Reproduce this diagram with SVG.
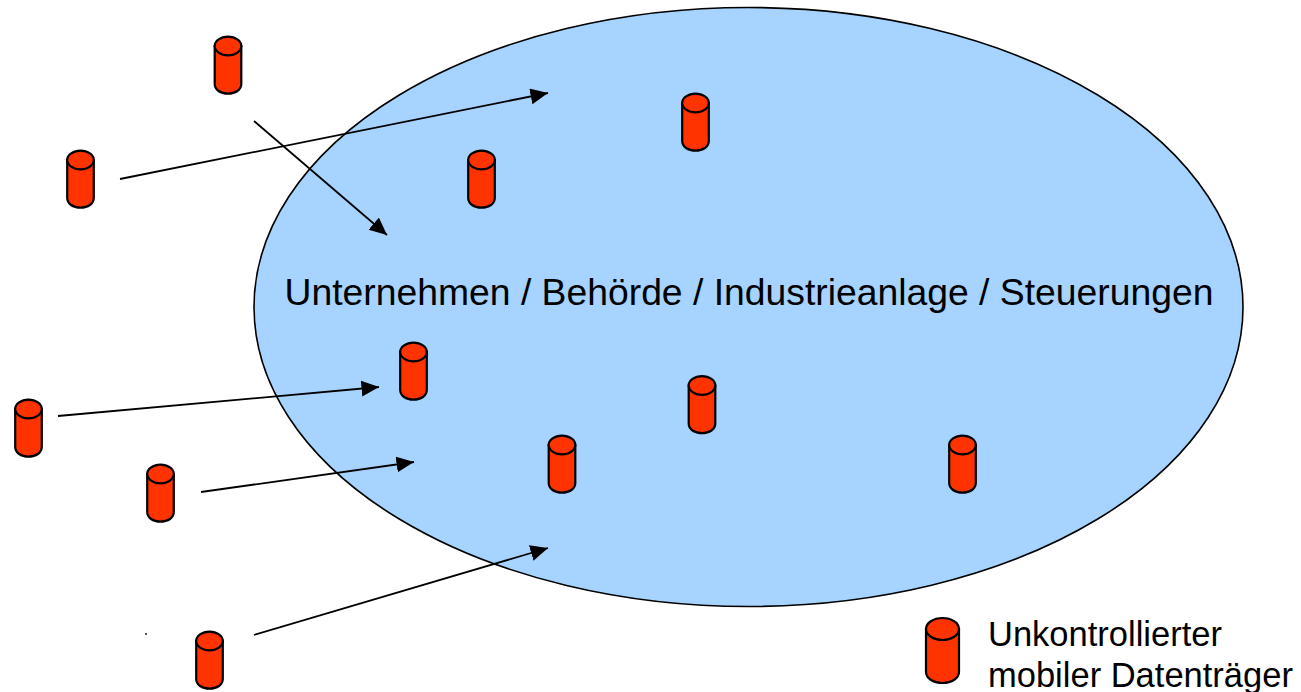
<svg xmlns="http://www.w3.org/2000/svg" width="1301" height="692" viewBox="0 0 1301 692">
<style>
.cyl{fill:#ff3300;stroke:#000;stroke-width:2.200}
.conn{stroke:#000;stroke-width:1.800;fill:none;marker-end:url(#arrow)}
text{font-family:"Liberation Sans",Arial,sans-serif;fill:#000}
</style>
<defs>
<marker id="arrow" markerUnits="userSpaceOnUse" markerWidth="20" markerHeight="18" refX="17.500" refY="8" orient="auto"><path d="M0 0L17.500 8L0 16Z" fill="#000"/></marker>
<g id="cylinder"><path class="cyl" d="M-13.300 -19V19C-13.300 24.800 -7.500 28.600 0 28.600C7.500 28.600 13.300 24.800 13.300 19V-19Z"/><ellipse class="cyl" cx="0" cy="-19" rx="13.300" ry="9.300"/></g>
</defs>
<rect width="1301" height="692" fill="#fff"/>
<g id="enterprise"><ellipse cx="748.500" cy="307" rx="494.500" ry="299.500" fill="#a6d3ff" stroke="#000" stroke-width="1.600"/>
<text x="749" y="304.500" font-size="37.300" text-anchor="middle">Unternehmen / Behörde / Industrieanlage / Steuerungen</text></g>
<g id="connectors">
<line class="conn" x1="120" y1="179" x2="548" y2="93"/>
<line class="conn" x1="254" y1="121" x2="387" y2="235"/>
<line class="conn" x1="58" y1="416" x2="379" y2="387"/>
<line class="conn" x1="201" y1="492" x2="414" y2="462"/>
<line class="conn" x1="254" y1="635" x2="548" y2="548"/>
</g>
<g id="c1"><use href="#cylinder" x="228" y="65"/></g>
<g id="c2"><use href="#cylinder" x="80.500" y="179"/></g>
<g id="c3"><use href="#cylinder" x="481.500" y="179"/></g>
<g id="c4"><use href="#cylinder" x="695.500" y="122"/></g>
<g id="c5"><use href="#cylinder" x="413.500" y="371"/></g>
<g id="c6"><use href="#cylinder" x="28.500" y="428"/></g>
<g id="c7"><use href="#cylinder" x="702" y="404.500"/></g>
<g id="c8"><use href="#cylinder" x="562" y="464"/></g>
<g id="c9"><use href="#cylinder" x="962.500" y="464"/></g>
<g id="c10"><use href="#cylinder" x="160.500" y="493"/></g>
<g id="c11"><use href="#cylinder" x="209.500" y="660"/></g>
<rect id="speck" x="145" y="633" width="2" height="2" fill="#555"/>
<g id="legend">
<path class="cyl" d="M926 629V672C926 678 933 683 942.500 683C952 683 959 678 959 672V629Z"/><ellipse class="cyl" cx="942.500" cy="629" rx="16.500" ry="11"/>
<text font-size="34.500"><tspan x="988" y="646">Unkontrollierter</tspan><tspan x="988" y="687">mobiler Datenträger</tspan></text>
</g>
</svg>
